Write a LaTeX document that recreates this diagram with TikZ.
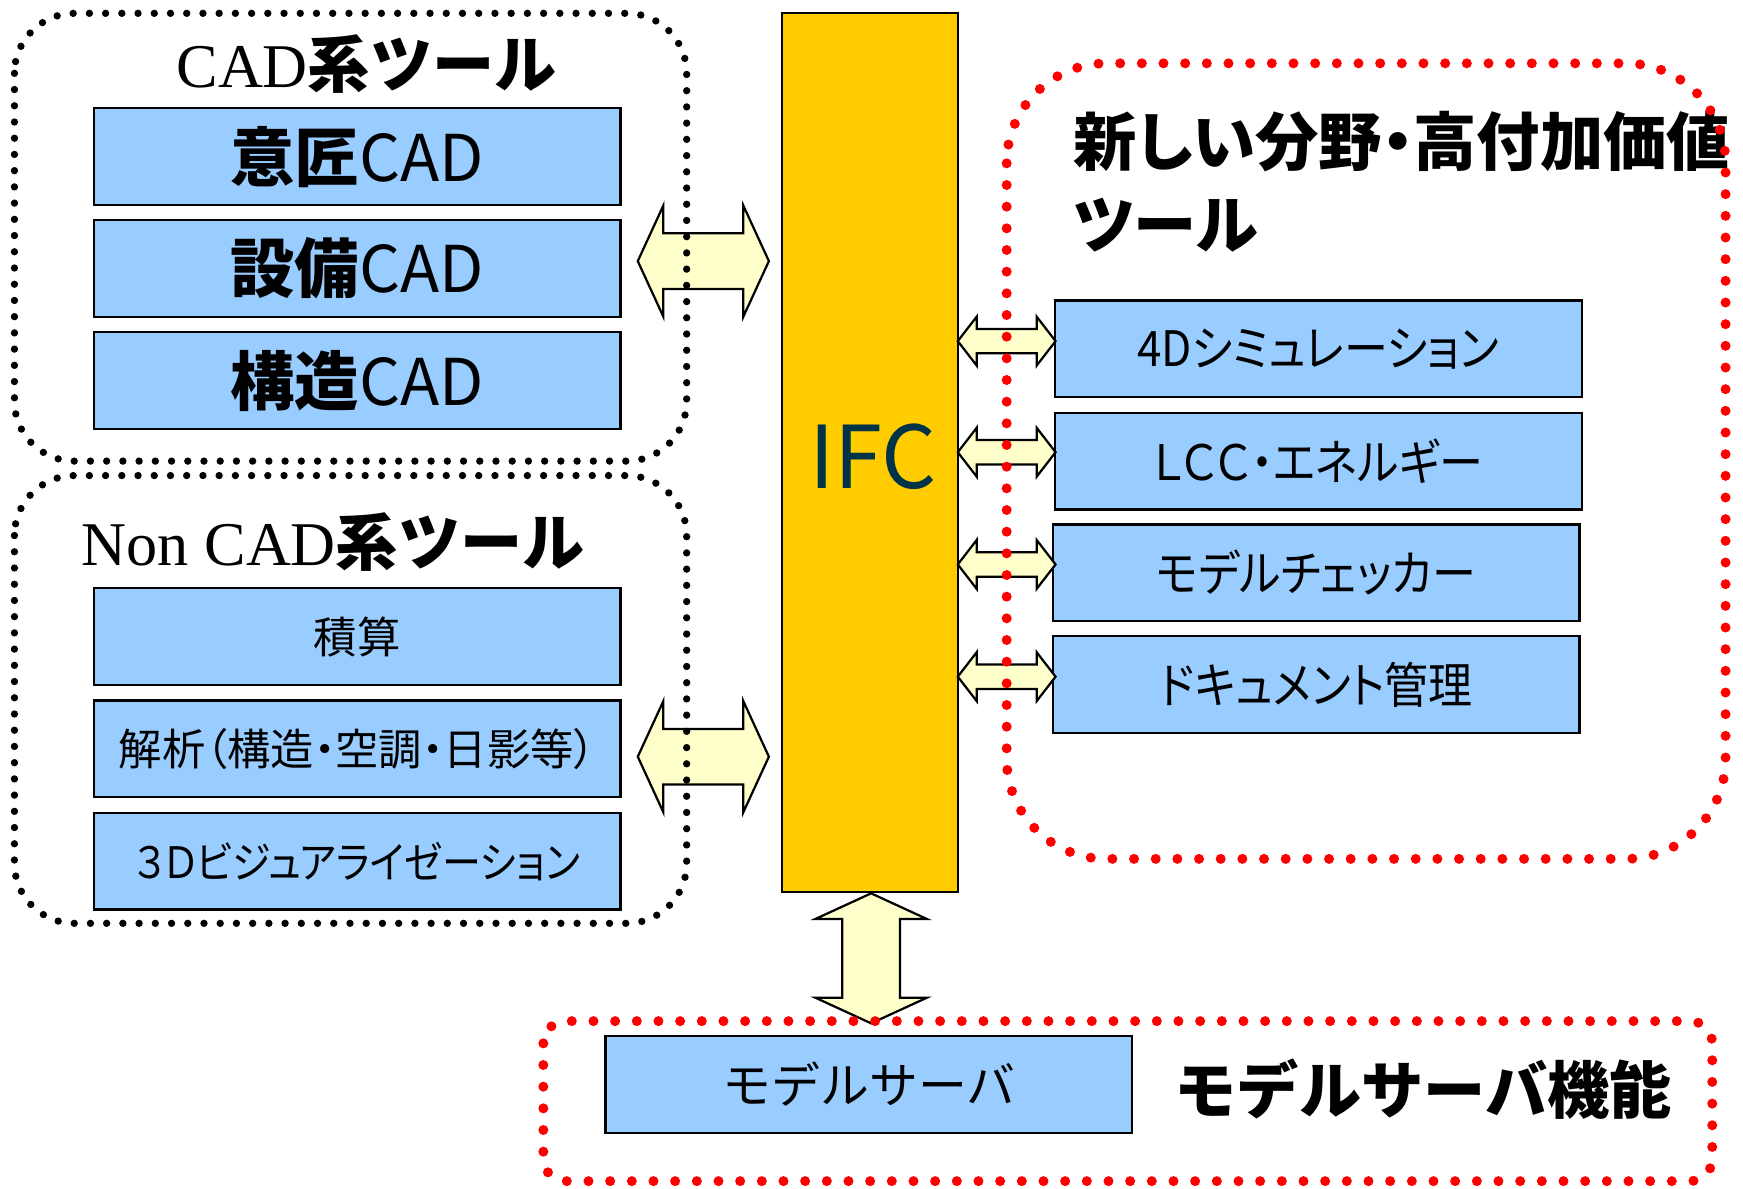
\documentclass[tikz,border=0pt]{standalone}
\usepackage{fontspec}
\setmainfont{Liberation Serif}
\newfontfamily\jp{Noto Sans CJK JP}
\newfontfamily\jpp[RawFeature=+palt]{Noto Sans CJK JP}
\newfontfamily\jpn[RawFeature=+palt, FakeStretch=0.9]{Noto Sans CJK JP}
\definecolor{boxblue}{RGB}{153,204,255}
\definecolor{ifcyellow}{RGB}{255,204,0}
\definecolor{arrowyellow}{RGB}{255,255,204}
\definecolor{ifctext}{RGB}{0,51,71}
\definecolor{dotred}{RGB}{255,0,0}
\tikzset{
  box/.style={draw=black, fill=boxblue, line width=1pt, inner sep=0pt,
    minimum width=237pt, minimum height=43.5pt},
  blackdots/.style={draw=black, line width=3.3pt, line cap=round,
    dash pattern=on 0pt off 7.3pt, rounded corners=27pt},
  reddots/.style={draw=dotred, line width=4.5pt, line cap=round,
    dash pattern=on 0pt off 9.75pt, rounded corners=45pt},
  blockarrow/.style={draw=black, fill=arrowyellow, line width=1pt, line join=miter},
  cadtxt/.style={font=\jp\fontsize{29}{35}\selectfont},
  midtxt/.style={font=\jpp\fontsize{19.5}{24}\selectfont},
  righttxt/.style={font=\jpn\fontsize{22}{27}\selectfont},
  titletxt/.style={inner sep=0pt, font=\fontsize{28}{34}\selectfont},
}
\begin{document}
\begin{tikzpicture}[x=0.5pt,y=-0.5pt]
\useasboundingbox (0,0) rectangle (1568.7,1070.1);

% IFC column
\node[draw=black, fill=ifcyellow, line width=0.8pt, minimum width=79pt, minimum height=395.5pt, inner sep=0pt]
  (ifc) at (783,407.5) {};
\node[text=ifctext, font=\jp\fontsize{39}{46}\selectfont, inner sep=0pt] (ifcl) at (786,411) {IFC};

% CAD group boxes
\node[box, cadtxt] (isho) at (321.5,141) {{\bfseries 意匠}CAD};
\node[box, cadtxt] (setsubi) at (321.5,241.5) {{\bfseries 設備}CAD};
\node[box, cadtxt] (kozo) at (321.5,342.5) {{\bfseries 構造}CAD};
\node[titletxt] (cadtitle) at (330,58) {CAD{\jp\bfseries 系ツール}};

% Non CAD group boxes
\node[box, midtxt] (sekisan) at (321.5,573) {積算};
\node[box, midtxt] (kaiseki) at (321.5,674) {解析（構造・空調・日影等）};
\node[box, font=\jpn\fontsize{19.5}{24}\selectfont] (viz) at (321.5,775) {３Ｄビジュアライゼーション};
\node[titletxt] (noncadtitle) at (300,488) {Non CAD{\jp\bfseries 系ツール}};

% right group boxes
\node[box, righttxt] (sim) at (1186.5,314) {4Dシミュレーション};
\node[box, righttxt] (lcc) at (1186.5,415) {ＬＣＣ・エネルギー};
\node[box, righttxt] (check) at (1184.5,515.5) {モデルチェッカー};
\node[box, righttxt] (doc) at (1184.5,616) {ドキュメント管理};
\node[anchor=north west, align=left, inner sep=0pt,
  font=\jpp\bfseries\fontsize{28.5}{37}\selectfont] (newtitle) at (966,100)
  {新しい分野・高付加価値\\ツール};

% model server
\node[box, font=\jp\fontsize{22}{27}\selectfont] (server) at (782,976) {モデルサーバ};
\node[font=\jp\bfseries\fontsize{28}{34}\selectfont, inner sep=0pt] (servertitle) at (1281,980) {モデルサーバ機能};

% block arrows
\draw[blockarrow, shift={(633,235)}] (-59,0) -- (-36,-50) -- (-36,-25) -- (36,-25) -- (36,-50) -- (59,0)
  -- (36,50) -- (36,25) -- (-36,25) -- (-36,50) -- cycle;
\draw[blockarrow, shift={(633,681)}] (-59,0) -- (-36,-50) -- (-36,-25) -- (36,-25) -- (36,-50) -- (59,0)
  -- (36,50) -- (36,25) -- (-36,25) -- (-36,50) -- cycle;
\foreach \yy in {307,407,508,609}{
  \draw[blockarrow, shift={(906,\yy)}] (-44,0) -- (-27,-22) -- (-27,-11) -- (27,-11) -- (27,-22) -- (44,0)
    -- (27,22) -- (27,11) -- (-27,11) -- (-27,22) -- cycle;
}
\draw[blockarrow, shift={(784,862.5)}] (0,-58.5) -- (50,-35.5) -- (26,-35.5) -- (26,35.5) -- (50,35.5) -- (0,58.5)
  -- (-50,35.5) -- (-26,35.5) -- (-26,-35.5) -- (-50,-35.5) -- cycle;

% group frames
\draw[blackdots] (13,12) rectangle (618,415);
\draw[blackdots] (13,428) rectangle (618,831);
\draw[reddots] (906,57) rectangle (1553,773);
\draw[reddots, rounded corners=10pt] (489,919) rectangle (1541,1063);
\end{tikzpicture}
\end{document}
